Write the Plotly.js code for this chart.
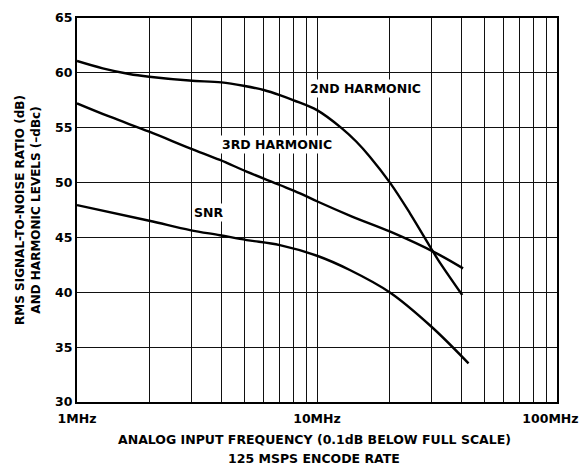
<!DOCTYPE html>
<html><head><meta charset="utf-8">
<script src="https://cdn.plot.ly/plotly-3.0.1.min.js"></script>
<style>body{margin:0;padding:0;background:#fff}#chart{width:581px;height:465px}</style>
</head><body><div id="chart"></div>
<script>
// Data (frequency in MHz, level in dB / -dBc)
const harm2Freq = [1, 1.28, 1.65, 2, 2.94, 4, 5, 6, 7, 8, 10, 12.7, 14.6, 16.6, 20.2, 24.4, 29.6, 32, 40.3];
const harm2Val  = [61.08, 60.41, 59.9, 59.65, 59.3, 59.13, 58.8, 58.44, 57.98, 57.5, 56.6, 54.94, 53.72, 52.36, 49.95, 47.2, 44.15, 42.94, 39.75];
const harm3Freq = [1, 1.37, 2, 2.96, 3.94, 5.09, 7, 8.5, 10.1, 14, 20.2, 31.5, 40.6];
const harm3Val  = [57.22, 56.0, 54.64, 53.12, 52.06, 51.0, 49.78, 49.02, 48.25, 46.9, 45.52, 43.55, 42.18];
const snrFreq   = [1, 2, 2.96, 3.94, 5.09, 7, 10, 13.7, 20.2, 30, 42.8];
const snrVal    = [47.95, 46.52, 45.67, 45.2, 44.76, 44.3, 43.33, 42.03, 39.96, 36.86, 33.52];
const xTickVals = [1,2,3,4,5,6,7,8,9,10,20,30,40,50,60,70,80,90,100];
const xTickText = ["1MHz","","","","","","","","","10MHz","","","","","","","","","100MHz"];
const yTickVals = [30,35,40,45,50,55,60,65];
const yTickText = ["30","35","40","45","50","55","60","65"];
const xTitleLines = ["ANALOG INPUT FREQUENCY (0.1dB BELOW FULL SCALE)", "125 MSPS ENCODE RATE"];
const yTitle = "RMS SIGNAL-TO-NOISE RATIO (dB)<br>AND HARMONIC LEVELS (–dBc)";
const labels = [
  {text: "2ND HARMONIC", x: 16, y: 58.6},
  {text: "3RD HARMONIC", x: 6.8, y: 53.5},
  {text: "SNR", x: 3.53, y: 47.3}
];

const fam = "DejaVu Sans, Liberation Sans, Arial, sans-serif";
const bold = s => "<b>" + s + "</b>";
const line = {color: "#000", width: 2.4, shape: "spline", smoothing: 1};
const traces = [
  {x: harm2Freq, y: harm2Val, mode: "lines", line: line, hoverinfo: "skip"},
  {x: harm3Freq, y: harm3Val, mode: "lines", line: line, hoverinfo: "skip"},
  {x: snrFreq, y: snrVal, mode: "lines", line: line, hoverinfo: "skip"}
];
const axisCommon = {
  showgrid: true, gridcolor: "#111", gridwidth: 1,
  showline: true, linecolor: "#000", linewidth: 2, mirror: true,
  ticks: "", zeroline: false, tickangle: 0,
  tickfont: {family: fam, size: 12.5, color: "#000", weight: "bold"}
};
// pad the last x label so it stays inside the page like the reference
const xTickShown = xTickText.map((t, i) => i === xTickText.length - 1 ? "\u00a0" + bold(t) + "\u00a0\u00a0\u00a0\u00a0" : bold(t));
const curveLabels = labels.map(l => ({
  x: Math.log10(l.x), y: l.y, xref: "x", yref: "y", text: bold(l.text),
  showarrow: false, bgcolor: "#fff", borderpad: 1,
  font: {family: fam, size: 12.5, color: "#000"}
}));
const xTitleAnn = xTitleLines.map((t, i) => ({
  x: 0.5, y: 0, xref: "paper", yref: "paper", xanchor: "center", yanchor: "middle",
  xshift: -3, yshift: i === 0 ? -37 : -56, text: bold(t), showarrow: false,
  font: {family: fam, size: 12.5, color: "#000"}
}));
const layout = {
  width: 581, height: 465,
  margin: {l: 77, r: 24, t: 18, b: 63},
  paper_bgcolor: "#fff", plot_bgcolor: "#fff",
  showlegend: false,
  font: {family: fam, size: 12.5, color: "#000"},
  xaxis: Object.assign({}, axisCommon, {
    type: "log", range: [0, 2],
    tickvals: xTickVals, ticktext: xTickShown,
    ticklabeloverflow: "allow", ticklabelstandoff: 4
  }),
  yaxis: Object.assign({}, axisCommon, {
    range: [30, 65], tickvals: yTickVals, ticktext: yTickText.map(bold),
    title: {text: bold(yTitle), font: {family: fam, size: 12, color: "#000"}, standoff: 12}
  }),
  annotations: curveLabels.concat(xTitleAnn)
};
Plotly.newPlot("chart", traces, layout, {staticPlot: true});
</script></body></html>
